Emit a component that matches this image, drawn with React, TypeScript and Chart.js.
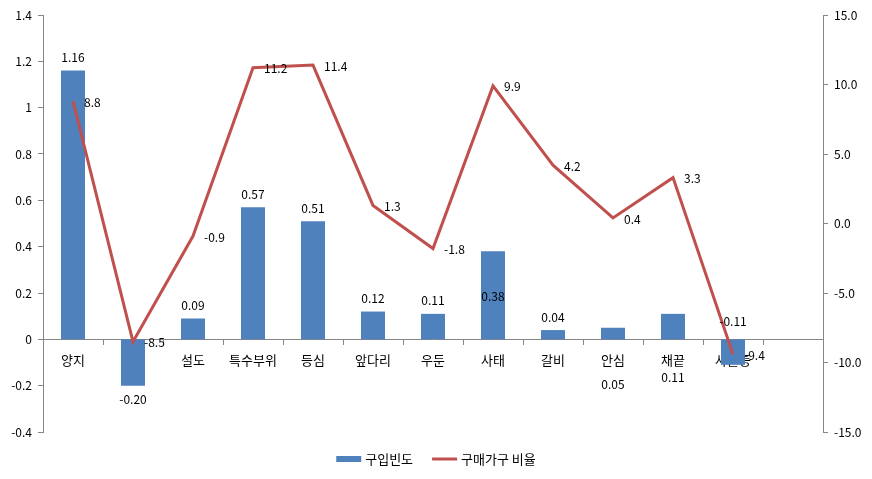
import React, { useEffect, useRef } from 'react';
import { Chart, registerables } from 'chart.js';

Chart.register(...registerables);

// ---- data ----
const categories = ['양지', '목심', '설도', '특수부위', '등심', '앞다리', '우둔', '사태', '갈비', '안심', '채끝', '사골등', ''];
const purchaseFrequency = [1.16, -0.2, 0.09, 0.57, 0.51, 0.12, 0.11, 0.38, 0.04, 0.05, 0.11, -0.11];
const householdRatio = [8.8, -8.5, -0.9, 11.2, 11.4, 1.3, -1.8, 9.9, 4.2, 0.4, 3.3, -9.4];
const seriesNames = ['구입빈도', '구매가구 비율'];

// ---- style ----
const FONT = '"Noto Sans CJK KR", "Noto Sans", sans-serif';
const BLUE = '#4F81BD';
const RED = '#C0504D';
const AXIS = '#868686';
// manual nudges of a few bar labels (pixels), as in the original
const barLabelNudge = [0, 0, 0, 0, 0, 0, 0, 58, 0, 70, 77, -57];

const valueLabels = {
  id: 'valueLabels',
  afterDatasetsDraw(chart: any) {
    const ctx = chart.ctx;
    ctx.save();
    ctx.font = `12px ${FONT}`;
    ctx.fillStyle = '#000';
    ctx.textBaseline = 'middle';
    const barMeta = chart.getDatasetMeta(0);
    barMeta.data.forEach((el: any, i: number) => {
      const v = purchaseFrequency[i];
      if (v == null) return;
      const yy = v >= 0 ? el.y - 13 : el.y + 14;
      ctx.textAlign = 'center';
      ctx.fillText(v.toFixed(2), el.x, yy + (barLabelNudge[i] || 0));
    });
    const lineMeta = chart.getDatasetMeta(1);
    lineMeta.data.forEach((el: any, i: number) => {
      const v = householdRatio[i];
      if (v == null) return;
      ctx.textAlign = 'left';
      ctx.fillText(v.toFixed(1), el.x + 11, el.y + 1);
    });
    ctx.restore();
  },
};

const bottomLegend = {
  id: 'bottomLegend',
  afterDraw(chart: any) {
    const { ctx, chartArea, width } = chart;
    ctx.save();
    ctx.font = `13px ${FONT}`;
    const w1 = ctx.measureText(seriesNames[0]).width;
    const w2 = ctx.measureText(seriesNames[1]).width;
    const sw = 25, gap = 4, between = 19;
    const total = sw + gap + w1 + between + sw + gap + w2;
    let x = (width - total) / 2;
    const y = chartArea.bottom + 27;
    ctx.fillStyle = BLUE;
    ctx.fillRect(x, y - 3, sw, 6);
    x += sw + gap;
    ctx.fillStyle = '#000';
    ctx.textAlign = 'left';
    ctx.textBaseline = 'middle';
    ctx.fillText(seriesNames[0], x, y);
    x += w1 + between;
    ctx.strokeStyle = RED;
    ctx.lineWidth = 3;
    ctx.beginPath();
    ctx.moveTo(x, y);
    ctx.lineTo(x + sw, y);
    ctx.stroke();
    x += sw + gap;
    ctx.fillText(seriesNames[1], x, y);
    ctx.restore();
  },
};

export default function App() {
  const canvasRef = useRef<HTMLCanvasElement | null>(null);

  useEffect(() => {
    if (!canvasRef.current) return;
    const chart = new Chart(canvasRef.current, {
      type: 'bar',
      data: {
        labels: categories,
        datasets: [
          {
            type: 'bar',
            label: seriesNames[0],
            data: purchaseFrequency,
            backgroundColor: BLUE,
            borderWidth: 0,
            barPercentage: 0.4,
            categoryPercentage: 1,
            yAxisID: 'y',
            order: 1,
          } as any,
          {
            type: 'line',
            label: seriesNames[1],
            data: householdRatio,
            borderColor: RED,
            backgroundColor: RED,
            borderWidth: 3,
            pointRadius: 0,
            tension: 0,
            yAxisID: 'y2',
            order: 0,
          } as any,
        ],
      },
      options: {
        animation: false,
        responsive: true,
        maintainAspectRatio: false,
        layout: { padding: { top: 15, bottom: 47, left: 0, right: 0 } },
        plugins: {
          legend: { display: false },
          tooltip: { enabled: false },
        },
        scales: {
          x: {
            type: 'category',
            position: { y: 0 } as any,
            offset: true,
            z: 1,
            grid: { display: true, drawOnChartArea: false, drawTicks: true, tickLength: 5, color: AXIS, offset: true },
            border: { display: true, color: AXIS, width: 1 },
            ticks: { font: { family: FONT, size: 13 }, color: '#000', padding: 8, maxRotation: 0, autoSkip: false },
          },
          y: {
            position: 'left',
            min: -0.4,
            max: 1.4,
            ticks: {
              stepSize: 0.2,
              font: { family: FONT, size: 12 },
              color: '#000',
              padding: 6,
              callback: (v: any) => String(Math.round(Number(v) * 10) / 10),
            },
            grid: { drawOnChartArea: false, drawTicks: true, tickLength: 5, color: AXIS },
            border: { display: true, color: AXIS, width: 1 },
            afterFit: (s: any) => { s.width = 43; },
          },
          y2: {
            position: 'right',
            min: -15,
            max: 15,
            ticks: {
              stepSize: 5,
              font: { family: FONT, size: 12 },
              color: '#000',
              padding: 6,
              callback: (v: any) => Number(v).toFixed(1),
            },
            grid: { drawOnChartArea: false, drawTicks: true, tickLength: 5, color: AXIS },
            border: { display: true, color: AXIS, width: 1 },
            afterFit: (s: any) => { s.width = 49; },
          },
        },
      } as any,
      plugins: [valueLabels, bottomLegend],
    });
    return () => chart.destroy();
  }, []);

  return (
    <div style={{ position: 'fixed', left: 0, top: 0, width: 872, height: 479, background: '#fff' }}>
      <canvas ref={canvasRef} />
    </div>
  );
}
